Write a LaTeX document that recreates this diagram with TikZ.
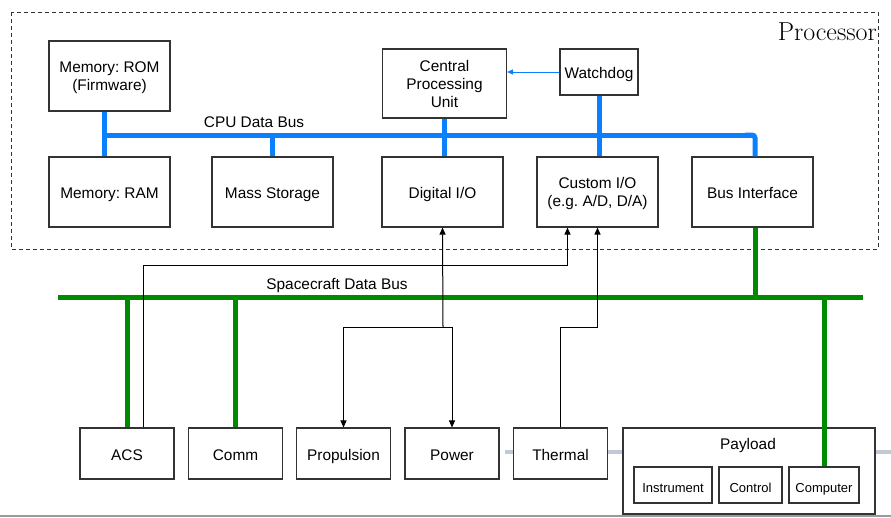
\documentclass[tikz,border=0pt]{standalone}
\usepackage{fontspec}
\setsansfont{Liberation Sans}
\usetikzlibrary{arrows.meta,calc}
\definecolor{cpublue}{RGB}{10,128,255}
\definecolor{scgreen}{RGB}{0,138,0}
\definecolor{boxgray}{RGB}{51,51,51}
\definecolor{slidegray}{RGB}{192,201,214}
\definecolor{rulegray}{RGB}{150,155,160}
\newcommand{\boxfont}{\sffamily\fontsize{15.4}{18}\selectfont}
\frenchspacing

\begin{document}
\begin{tikzpicture}[x=1pt,y=-1pt,
    blk/.style={draw=boxgray,line width=1.1pt,fill=white,inner sep=0pt,align=center,
      font=\boxfont,minimum width=121pt,minimum height=70pt},
    one/.style={blk,text height=13pt,text depth=0pt},
    multi/.style={blk,text depth=-5pt},
    low/.style={one,minimum width=94pt,minimum height=51pt},
    sub/.style={blk,minimum height=36pt,text height=14.5pt,text depth=0pt,
      font=\sffamily\fontsize{13}{15}\selectfont},
    cpubus/.style={cpublue,line width=5pt},
    scbus/.style={scgreen,line width=5pt},
    sig/.style={black,line width=1pt,-{Triangle[length=7pt,width=6pt]}},
    lbl/.style={font=\boxfont,inner sep=0pt,anchor=base}]
  \useasboundingbox (0,0) rectangle (891,517);
  \draw[slidegray,line width=4pt] (505,452) -- (891,452);
  \draw[rulegray,line width=2pt] (0,516) -- (891,516);

  \draw[boxgray,line width=1pt,dash pattern=on 4pt off 3pt] (11,12) rectangle (878,249);
  \node[anchor=base east,inner sep=0pt,font=\fontsize{26}{30}\selectfont] (proc) at (877,40) {Processor};

  \node[multi] (rom) at (109.5,76) {Memory: ROM\\(Firmware)};
  \node[one] (ram) at (109.5,192) {Memory: RAM};
  \node[one] (ms) at (272.5,192) {Mass Storage};
  \node[multi,text depth=-6pt,minimum width=124pt,minimum height=69pt] (cpu) at (444.5,83.5) {Central\\Processing\\Unit};
  \node[one,minimum width=78pt,minimum height=46pt] (wd) at (599,72) {Watchdog};
  \node[one] (dio) at (442.5,192) {Digital I/O};
  \node[multi] (cio) at (597.5,192) {Custom I/O\\(e.g. A/D, D/A)};
  \node[one] (bi) at (752.5,192) {Bus Interface};

  \node[low] (acs) at (127,453.5) {ACS};
  \node[low] (comm) at (235.5,453.5) {Comm};
  \node[low] (prop) at (343.5,453.5) {Propulsion};
  \node[low] (pow) at (452,453.5) {Power};
  \node[low] (th) at (560.5,453.5) {Thermal};
  \node[blk,minimum width=252pt,minimum height=86pt] (pl) at (749,471) {};
  \node[lbl] (pllbl) at (748,449) {Payload};
  \node[sub,minimum width=78pt] (ins) at (673,485) {Instrument};
  \node[sub,minimum width=63pt] (ctl) at (750.5,485) {Control};
  \node[sub,minimum width=70pt] (comp) at (824,485) {Computer};

  \coordinate (cpuL) at (104,135);
  \coordinate (cpuR) at (755,135);
  \draw[cpubus] (cpuL) -- ($(cpuR)+(-2,0)$);
  \draw[cpubus,rounded corners=3pt] ($(cpuR)+(-10,0)$) -- (cpuR) -- (cpuR |- bi.north);
  \draw[cpubus] (rom.south -| cpuL) -- (ram.north -| cpuL);
  \draw[cpubus] (ms.north) -- (ms.north |- cpuL);
  \draw[cpubus] (cpu.south) -- (cpu.south |- dio.north);
  \draw[cpubus] (wd.south) -- (wd.south |- cio.north);
  \node[lbl] (cpulbl) at (254,127) {CPU Data Bus};
  \draw[cpublue,line width=1pt,-{Triangle[length=6pt,width=5pt]}] (wd.west) -- (cpu.east |- wd.west);

  \coordinate (scL) at (58,297);
  \coordinate (scR) at (863,297);
  \draw[scbus] (scL) -- (scR);
  \draw[scbus] (bi.south -| cpuR) -- (cpuR |- scL);
  \draw[scbus] (acs.north) -- (acs.north |- scL);
  \draw[scbus] (comm.north) -- (comm.north |- scL);
  \draw[scbus] (comp.north) -- (comp.north |- scL);
  \node[lbl] (sclbl) at (337,289) {Spacecraft Data Bus};

  \coordinate (k) at (143,265);
  \coordinate (j) at (443,327);
  \draw[sig] (acs.north -| k) -- (k) -| ($(cio.south)+(-30,0)$);
  \draw[sig] (j) -- (dio.south);
  \draw[sig] (j) -| (prop.north);
  \draw[sig] (j) -| (pow.north);
  \draw[sig] (th.north) |- (cio.south |- j) -- (cio.south);
\end{tikzpicture}
\end{document}
